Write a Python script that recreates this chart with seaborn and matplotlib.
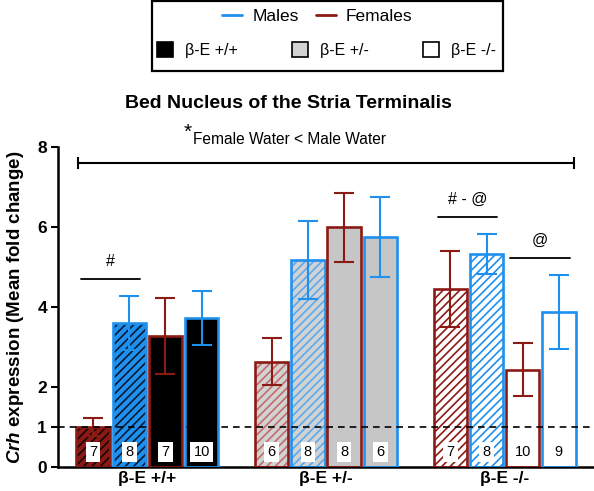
import pandas as pd
import numpy as np
import seaborn as sns
import matplotlib.pyplot as plt
from matplotlib.patches import Rectangle, Patch
from matplotlib.lines import Line2D

# data
genotypes = ["β-E +/+", "β-E +/-", "β-E -/-"]
conditions = ["Female Water", "Male Water", "Female Treated", "Male Treated"]
means_wt = [1.0, 3.6, 3.27, 3.73]
means_het = [2.63, 5.18, 5.99, 5.76]
means_ko = [4.45, 5.32, 2.43, 3.88]
sem_wt = [0.22, 0.68, 0.95, 0.68]
sem_het = [0.59, 0.97, 0.87, 1.0]
sem_ko = [0.94, 0.5, 0.66, 0.93]
n_wt = [7, 8, 7, 10]
n_het = [6, 8, 8, 6]
n_ko = [7, 8, 10, 9]

red = "#8c1a14"
blue = "#1e90ee"

rows = []
for g, m, s, n in zip(genotypes, [means_wt, means_het, means_ko],
                      [sem_wt, sem_het, sem_ko], [n_wt, n_het, n_ko]):
    for c, mi, si, ni in zip(conditions, m, s, n):
        rows.append({"genotype": g, "condition": c, "value": mi, "sem": si, "n": ni})
df = pd.DataFrame(rows)

sns.set_style("ticks", {"text.color": "black", "axes.labelcolor": "black",
                        "xtick.color": "black", "ytick.color": "black",
                        "axes.edgecolor": "black"})
plt.rcParams['font.family'] = ['Liberation Sans', 'DejaVu Sans']
plt.rcParams['mathtext.fontset'] = 'custom'
plt.rcParams['mathtext.it'] = 'Liberation Sans:italic:bold'
plt.rcParams['mathtext.rm'] = 'Liberation Sans:bold'
plt.rcParams['hatch.linewidth'] = 1.2

fig = plt.figure(figsize=(5.94, 4.91), dpi=100)
ax = fig.add_axes([58/594, 24/491, 1 - 58/594, 320/491])

sns.barplot(data=df, x="genotype", y="value", hue="condition", order=genotypes,
            hue_order=conditions, width=0.81, gap=0.08, errorbar=None,
            legend=False, ax=ax)
bar_conts = list(ax.containers)

# face / hatch colours per genotype and condition
edge_cols = [red, blue, red, blue]
face = {
    0: [red, blue, "black", "black"],
    1: ["#d2d2d2", "#d2d2d2", "#c6c6c6", "#c6c6c6"],
    2: ["white", "white", "white", "white"],
}
hatch_cols = {
    0: ["#1a0505", "#0a1a33", None, None],
    1: ["#c46a6a", "#5aaaf0", None, None],
    2: [red, blue, None, None],
}

centers = {}
for h, cont in enumerate(bar_conts):
    for g, bar in enumerate(cont):
        x, w, ht = bar.get_x(), bar.get_width(), bar.get_height()
        centers[(g, h)] = x + w / 2
        bar.set_facecolor(face[g][h])
        if hatch_cols[g][h] is not None:
            bar.set_hatch("////")
            bar.set_edgecolor(hatch_cols[g][h])
        else:
            bar.set_edgecolor(edge_cols[h])
        bar.set_linewidth(0)
        ax.add_patch(Rectangle((x, 0), w, ht, fill=False, edgecolor=edge_cols[h],
                               linewidth=1.9, zorder=3))
        row = df[(df.genotype == genotypes[g]) & (df.condition == conditions[h])].iloc[0]
        ax.errorbar(x + w / 2, row["value"], yerr=row["sem"], fmt="none",
                    ecolor=edge_cols[h], elinewidth=1.5, capsize=7, capthick=1.5, zorder=4)
        ax.text(x + w / 2, 0.38, str(row["n"]), ha="center", va="center", fontsize=10.5,
                zorder=5, bbox=dict(boxstyle="square,pad=0.22", fc="white", ec="none"))

ax.axhline(1, color="black", ls=(0, (4, 3)), lw=1.2, zorder=6)

# significance annotations
first, last = bar_conts[0][0], bar_conts[3][2]
x0 = first.get_x() + 0.01
x1 = last.get_x() + last.get_width() - 0.01
ax.plot([x0, x1], [7.6, 7.6], color="black", lw=1.5, clip_on=False)
ax.plot([x0, x1], [7.6, 7.6], color="black", ls="none", marker="|", ms=8, mew=1.5, clip_on=False)

for (g, a, b, y, lab) in [(0, 0, 1, 4.7, "#"), (2, 0, 1, 6.26, "# - @"), (2, 2, 3, 5.23, "@")]:
    xa = centers[(g, a)] - 0.07
    xb = centers[(g, b)] + 0.06
    ax.plot([xa, xb], [y, y], color="black", lw=1.3)
    ax.text((xa + xb) / 2, y + 0.44, lab, ha="center", va="center", fontsize=11.5)

ax.set_xlim(-0.5, 2.5)
ax.set_ylim(0, 8)
ax.set_yticks([0, 1, 2, 4, 6, 8])
ax.set_xlabel("")
ax.set_ylabel(r"$Crh$ expression (Mean fold change)", fontsize=13.5, fontweight="bold", labelpad=8)
ax.tick_params(axis="y", length=5, width=1.5, labelsize=12.5, pad=3)
ax.tick_params(axis="x", length=0, labelsize=12.5, pad=3)
for lab in ax.get_xticklabels() + ax.get_yticklabels():
    lab.set_fontweight("bold")
sns.despine(ax=ax)
ax.spines["left"].set_linewidth(1.8)
ax.spines["bottom"].set_linewidth(1.8)

fig.text(0.485, 0.79, "Bed Nucleus of the Stria Terminalis", ha="center", va="center",
         fontsize=14, fontweight="bold")
fig.text(184/594, 1 - 132/491, "*", ha="left", va="center", fontsize=15)
fig.text(193/594, 1 - 140/491, "Female Water < Male Water", ha="left", va="center", fontsize=11.2)

# legend box
fig.patches.append(Rectangle((152/594, 1 - 71/491), 351/594, 70/491, transform=fig.transFigure,
                             fill=False, edgecolor="black", linewidth=1.6))
sex_handles = [Line2D([], [], color=blue, lw=2), Line2D([], [], color=red, lw=2)]
fig.legend(sex_handles, ["Males", "Females"], loc="center", bbox_to_anchor=(0.5345, 0.967),
           ncol=2, frameon=False, fontsize=12.5, handlelength=1.15, handletextpad=0.6,
           columnspacing=0.95, borderpad=0)
geno_handles = [Patch(fc="black", ec="black", lw=1.2), Patch(fc="#d2d2d2", ec="black", lw=1.2),
                Patch(fc="white", ec="black", lw=1.2)]
fig.legend(geno_handles, genotypes, loc="center", bbox_to_anchor=(0.549, 0.898),
           ncol=3, frameon=False, fontsize=11.5, handlelength=1.05, handleheight=1.05,
           handletextpad=0.7, columnspacing=3.4, borderpad=0)

fig.savefig("out.png", dpi=100)
